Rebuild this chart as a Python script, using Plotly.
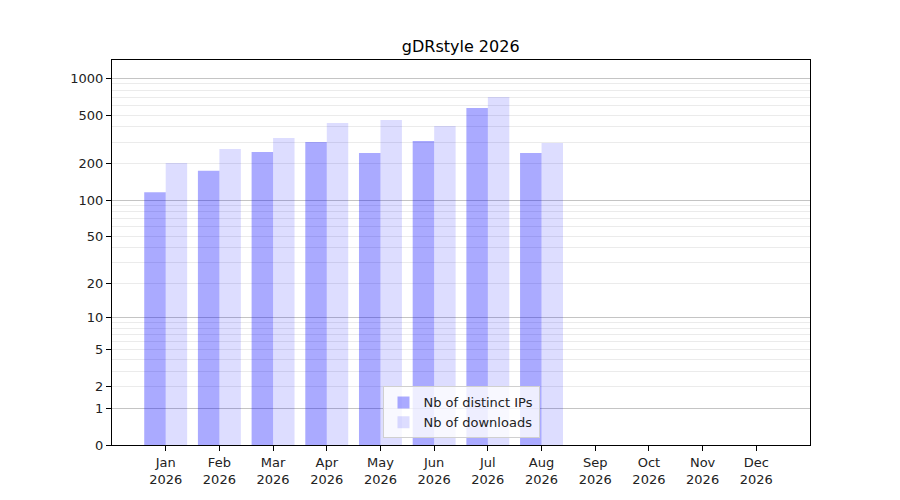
import math
import plotly.graph_objects as go

months = ["Jan", "Feb", "Mar", "Apr", "May", "Jun", "Jul", "Aug", "Sep", "Oct", "Nov", "Dec"]
year = "2026"
distinct_ips = [116, 174, 249, 301, 244, 306, 571, 244, None, None, None, None]
downloads = [202, 263, 324, 430, 456, 407, 703, 295, None, None, None, None]
ytick_labels = [0, 1, 2, 5, 10, 20, 50, 100, 200, 500, 1000]
major_grid = [1, 10, 100, 1000]
minor_grid = [m * d for d in (1, 10, 100) for m in range(2, 10)]


def tr(v):
    return None if v is None else math.log10(1 + v)


xcats = [f"{m}<br>{year}" for m in months]

fig = go.Figure()
fig.add_trace(go.Bar(x=xcats, y=[tr(v) for v in distinct_ips], name="Nb of distinct IPs",
                     marker=dict(color="rgba(0,0,255,0.333)", line=dict(width=0)),
                     customdata=distinct_ips, hovertemplate="%{customdata}"))
fig.add_trace(go.Bar(x=xcats, y=[tr(v) for v in downloads], name="Nb of downloads",
                     marker=dict(color="rgba(0,0,255,0.133)", line=dict(width=0)),
                     customdata=downloads, hovertemplate="%{customdata}"))
# invisible helper trace so the overlaying axis carrying the major grid is drawn
fig.add_trace(go.Scatter(x=[xcats[0]], y=[0], mode="none", yaxis="y2",
                         showlegend=False, hoverinfo="skip"))

yr = [0, 3.15]
fig.update_layout(
    width=900, height=500,
    paper_bgcolor="white", plot_bgcolor="white",
    font=dict(family="DejaVu Sans", size=13, color="#222"),
    title=dict(text="gDRstyle 2026", x=0.503, xanchor="center", y=0.924, yanchor="middle",
               font=dict(size=16, color="black")),
    margin=dict(l=104, r=98, t=52, b=63),
    barmode="group", bargap=0.2, bargroupgap=0,
    showlegend=True,
    legend=dict(x=0.5, xanchor="center", y=0.017, yanchor="bottom",
                bgcolor="rgba(255,255,255,0.8)", bordercolor="#d0d0d0", borderwidth=1,
                font=dict(size=13, color="#222"), itemsizing="constant"),
    xaxis=dict(type="category", categoryorder="array", categoryarray=xcats,
               range=[-1, 12], showline=True, mirror=True, linecolor="black", linewidth=1,
               ticks="outside", ticklen=5, tickcolor="black", showgrid=False, zeroline=False),
    yaxis=dict(range=yr, showline=True, mirror=True, linecolor="black", linewidth=1,
               tickmode="array", tickvals=[tr(v) for v in ytick_labels],
               ticktext=[str(v) for v in ytick_labels],
               ticks="outside", ticklen=5, tickcolor="black", showgrid=False, zeroline=False,
               minor=dict(tickmode="array", tickvals=[tr(v) for v in minor_grid],
                          showgrid=True, gridcolor="#ebebeb", gridwidth=1, ticks="")),
    yaxis2=dict(range=yr, overlaying="y", side="left", showline=False,
                tickmode="array", tickvals=[tr(v) for v in major_grid],
                showticklabels=False, ticks="", showgrid=True, gridcolor="#c4c4c4",
                gridwidth=1, zeroline=False),
)
fig.write_html("out.html")
